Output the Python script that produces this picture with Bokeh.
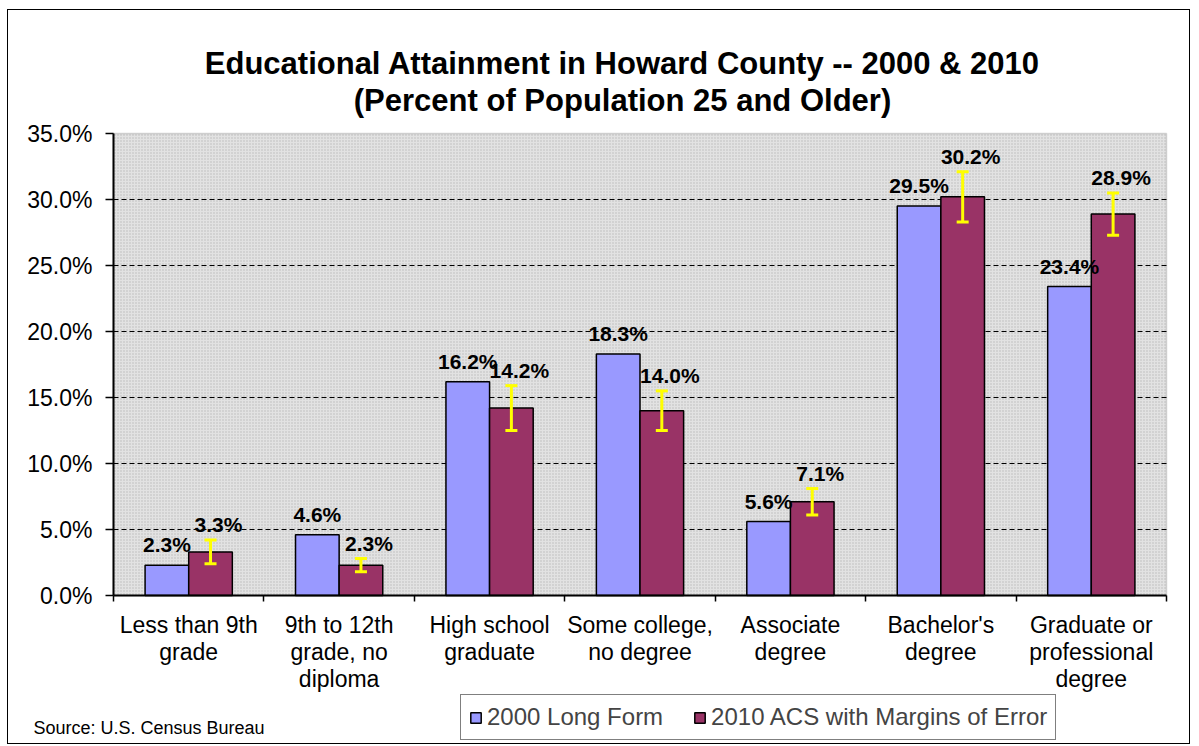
from bokeh.plotting import figure
from bokeh.models import (ColumnDataSource, Whisker, TeeHead, LabelSet, Label, BoxAnnotation,
                          FixedTicker, Range1d, Legend, LegendItem, PrintfTickFormatter)
from bokeh.core.properties import value
from bokeh.embed import file_html
from bokeh.resources import INLINE

categories = ["Less than 9th\ngrade", "9th to 12th\ngrade, no\ndiploma", "High school\ngraduate",
              "Some college,\nno degree", "Associate\ndegree", "Bachelor's\ndegree",
              "Graduate or\nprofessional\ndegree"]
values_2000 = [2.3, 4.6, 16.2, 18.3, 5.6, 29.5, 23.4]
values_2010 = [3.3, 2.3, 14.2, 14.0, 7.1, 30.2, 28.9]
moe_2010 = [0.9, 0.5, 1.7, 1.5, 1.0, 1.9, 1.6]
y_ticks = [0, 5, 10, 15, 20, 25, 30, 35]
grid_ticks = [5, 10, 15, 20, 25, 30]
series_names = ["2000 Long Form", "2010 ACS with Margins of Error"]
title_lines = ["Educational Attainment in Howard County -- 2000 & 2010",
               "(Percent of Population 25 and Older)"]
source_note = "Source:  U.S. Census Bureau"

FONT = "Liberation Sans"
BLUE = "#9999FF"
MAROON = "#993366"
BAR_W = 0.29
Y_MAX = 35

# canvas geometry (pixels)
W, H = 1183, 735
PLOT_L, PLOT_R = 105, 1158      # value-area left / right inside the canvas
PLOT_T, PLOT_B = 123, 585       # value-area top / bottom inside the canvas

n = len(categories)
px_x = (PLOT_R - PLOT_L) / n
px_y = (PLOT_B - PLOT_T) / Y_MAX
x_range = Range1d(-PLOT_L / px_x, n + (W - PLOT_R) / px_x)
y_range = Range1d(-(H - PLOT_B) / px_y, Y_MAX + PLOT_T / px_y)

centers = [i + 0.5 for i in range(n)]
x_2000 = [c - BAR_W / 2 for c in centers]
x_2010 = [c + BAR_W / 2 for c in centers]

src_a = ColumnDataSource(dict(x=x_2000, top=values_2000,
                              lab=[f"{v:.1f}%" for v in values_2000]))
src_b = ColumnDataSource(dict(x=x_2010, top=values_2010,
                              upper=[v + m for v, m in zip(values_2010, moe_2010)],
                              lower=[v - m for v, m in zip(values_2010, moe_2010)],
                              lab=[f"{v:.1f}%" for v in values_2010]))

p = figure(width=W, height=H, output_backend="svg", toolbar_location=None,
           x_range=x_range, y_range=y_range,
           min_border_left=0, min_border_right=0, min_border_top=0, min_border_bottom=0)
p.styles = {"margin-left": "7px", "margin-top": "9px", "border": "1px solid black"}
p.background_fill_color = "white"
p.border_fill_color = "white"
p.outline_line_color = None

p.add_layout(BoxAnnotation(left=0, right=n, bottom=0, top=Y_MAX, fill_color="#E2E2E2",
                           fill_alpha=1, hatch_pattern="dot", hatch_color="#B8B8B8",
                           hatch_scale=3, hatch_weight=1, hatch_alpha=1,
                           line_color="#808080", line_width=1.5, level="underlay"))

# dashed gridlines across the value area only
p.segment(x0=[0] * len(grid_ticks), x1=[n] * len(grid_ticks), y0=grid_ticks, y1=grid_ticks,
          line_color="black", line_dash="5 3", line_width=1)

ra = p.vbar(x="x", top="top", width=BAR_W, source=src_a, fill_color=BLUE,
            line_color="black", line_width=1.5)
rb = p.vbar(x="x", top="top", width=BAR_W, source=src_b, fill_color=MAROON,
            line_color="black", line_width=1.5)

wh = Whisker(base="x", upper="upper", lower="lower", source=src_b, level="annotation",
             line_color="#FFFF00", line_width=3,
             upper_head=TeeHead(size=12, line_color="#FFFF00", line_width=3),
             lower_head=TeeHead(size=12, line_color="#FFFF00", line_width=3))
p.add_layout(wh)

la = LabelSet(x="x", y="top", text="lab", source=src_a, text_align="center",
              text_baseline="alphabetic", y_offset=13, text_font=value(FONT),
              text_font_size="21px", text_font_style="bold", text_color="black")
lb = LabelSet(x="x", y="upper", text="lab", source=src_b, text_align="center",
              text_baseline="alphabetic", x_offset=8, y_offset=8, text_font=value(FONT),
              text_font_size="21px", text_font_style="bold", text_color="black")
p.add_layout(la)
p.add_layout(lb)

# axes
p.yaxis.fixed_location = 0
p.yaxis.bounds = (0, Y_MAX)
p.yaxis.ticker = FixedTicker(ticks=y_ticks)
p.yaxis.formatter = PrintfTickFormatter(format="%.1f%%")
p.yaxis.major_label_text_font = FONT
p.yaxis.major_label_text_font_size = "23px"
p.yaxis.major_label_text_color = "black"
p.yaxis.axis_line_width = 2
p.yaxis.axis_line_color = "black"
p.yaxis.major_tick_out = 8
p.yaxis.major_tick_in = 0
p.yaxis.major_tick_line_width = 1.5
p.yaxis.minor_tick_line_color = None
p.yaxis.major_label_standoff = 13

p.xaxis.fixed_location = 0
p.xaxis.bounds = (0, n)
p.xaxis.ticker = FixedTicker(ticks=centers, minor_ticks=list(range(n + 1)))
p.xaxis.major_label_overrides = {c: lab for c, lab in zip(centers, categories)}
p.xaxis.major_label_text_font = FONT
p.xaxis.major_label_text_font_size = "23px"
p.xaxis.major_label_text_color = "black"
p.xaxis.major_label_text_line_height = 1.05
p.xaxis.axis_line_width = 2
p.xaxis.axis_line_color = "black"
p.xaxis.major_tick_line_color = None
p.xaxis.major_tick_out = 6
p.xaxis.minor_tick_out = 6
p.xaxis.minor_tick_in = 0
p.xaxis.minor_tick_line_color = "black"
p.xaxis.minor_tick_line_width = 1.5
p.xaxis.major_label_standoff = 10

p.xgrid.visible = False
p.ygrid.visible = False

# titles and source note (screen units from the canvas bottom-left)
p.add_layout(Label(x=614, y=682, x_units="screen", y_units="screen", text=title_lines[0],
                   text_align="center", text_baseline="middle", text_font=FONT,
                   text_font_size="31px", text_font_style="bold", text_color="black"))
p.add_layout(Label(x=614, y=645, x_units="screen", y_units="screen", text=title_lines[1],
                   text_align="center", text_baseline="middle", text_font=FONT,
                   text_font_size="31px", text_font_style="bold", text_color="black"))
p.add_layout(Label(x=25, y=18, x_units="screen", y_units="screen", text=source_note,
                   text_align="left", text_baseline="middle", text_font=FONT,
                   text_font_size="18px", text_color="black"))

legend = Legend(items=[LegendItem(label=series_names[0], renderers=[ra]),
                       LegendItem(label=series_names[1], renderers=[rb])],
                location=(452, 5), orientation="horizontal",
                label_text_font=FONT, label_text_font_size="24px",
                glyph_width=13, glyph_height=13, label_standoff=5, spacing=30,
                padding=8, margin=0, border_line_color="black", border_line_width=1.5,
                background_fill_color="white", background_fill_alpha=1)
p.add_layout(legend)

open("out.html", "w").write(file_html(p, INLINE))
